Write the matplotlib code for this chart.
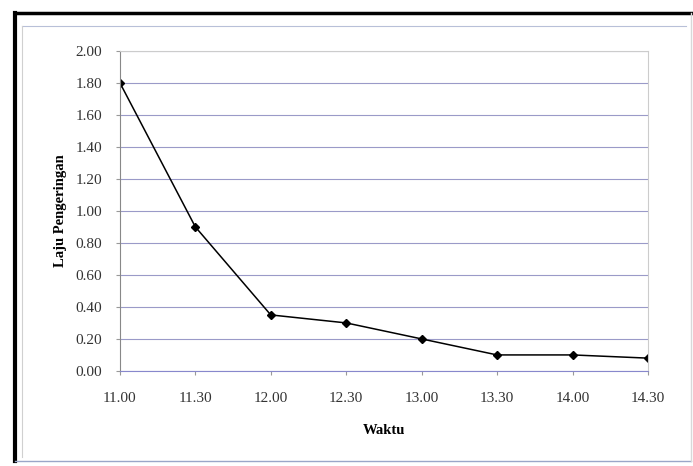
import matplotlib
matplotlib.use("Agg")
import matplotlib.pyplot as plt
from matplotlib.lines import Line2D

waktu = ["11.00", "11.30", "12.00", "12.30", "13.00", "13.30", "14.00", "14.30"]
laju = [1.80, 0.90, 0.35, 0.30, 0.20, 0.10, 0.10, 0.08]
yticks = [0.00, 0.20, 0.40, 0.60, 0.80, 1.00, 1.20, 1.40, 1.60, 1.80, 2.00]

plt.rcParams['font.family'] = ['Liberation Serif', 'DejaVu Serif']

fig = plt.figure(figsize=(6.93, 4.66), dpi=100)
fig.patch.set_facecolor("white")

# chart border: heavy on left/top, faint on right/bottom
x0, x1, y0, y1 = 0.021, 0.997, 0.010, 0.972
tf = fig.transFigure
fig.lines.append(Line2D([x0, x0], [y0, y1], transform=tf, color="black", linewidth=3))
fig.lines.append(Line2D([x0, x1], [y1, y1], transform=tf, color="black", linewidth=2.5))
fig.lines.append(Line2D([x0, x1], [y0, y0], transform=tf, color="#9aa6c8", linewidth=1))
fig.lines.append(Line2D([x1, x1], [y0, y1], transform=tf, color="#d8d8d8", linewidth=1))
# inner frame
fig.lines.append(Line2D([0.032, 0.99], [0.945, 0.945], transform=tf, color="#b8c0d8", linewidth=0.8))
fig.lines.append(Line2D([0.032, 0.032], [0.02, 0.945], transform=tf, color="#d0d0d0", linewidth=0.8))

ax = fig.add_axes([0.173, 0.204, 0.762, 0.687])
x = list(range(len(waktu)))
ax.plot(x, laju, color="black", linewidth=1.1, marker="D", markersize=4)

ax.set_xlim(0, len(waktu) - 1)
ax.set_ylim(0, 2.0)
ax.set_xticks(x)
ax.set_xticklabels(waktu, fontsize=11, color="#333333")
ax.set_yticks(yticks)
ax.set_yticklabels(["%.2f" % v for v in yticks], fontsize=11, color="#333333")
ax.yaxis.grid(True, color="#9a9ac8", linewidth=0.8)
ax.set_axisbelow(True)
for s in ["top", "right"]:
    ax.spines[s].set_color("#cccccc")
ax.spines["left"].set_color("#888888")
ax.spines["bottom"].set_color("#8888cc")
ax.tick_params(axis="x", length=3, color="#999999", pad=12)
ax.tick_params(axis="y", length=3, color="#999999", pad=10)

ax.set_xlabel("Waktu", fontsize=10.5, fontweight="bold", labelpad=14)
ax.set_ylabel("Laju Pengeringan", fontsize=10.5, fontweight="bold", labelpad=6)

fig.savefig("out.png", dpi=100)
